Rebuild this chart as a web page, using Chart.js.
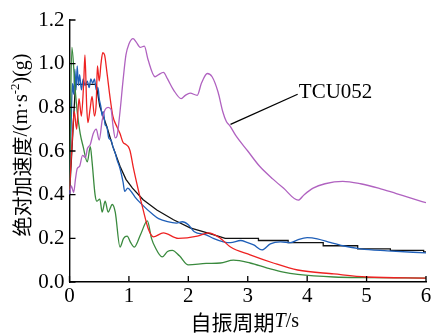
<!DOCTYPE html>
<html>
<head>
<meta charset="utf-8">
<script src="https://cdn.jsdelivr.net/npm/chart.js@4.4.1/dist/chart.umd.min.js"></script>
<style>
html, body { margin: 0; padding: 0; background: #fff; }
</style>
</head>
<body>
<canvas id="myChart" width="434" height="333"></canvas>
<script>
// periods (s) and spectral values (g)
var purpleT = [0, 0.03, 0.07, 0.1, 0.13, 0.17, 0.22, 0.27, 0.3, 0.35, 0.4, 0.45, 0.5, 0.55, 0.6, 0.65, 0.7, 0.73, 0.77, 0.8, 0.85, 0.9, 0.95, 1.0, 1.07, 1.12, 1.19, 1.26, 1.32, 1.44, 1.5, 1.58, 1.65, 1.75, 1.88, 1.95, 2.03, 2.15, 2.22, 2.32, 2.4, 2.5, 2.58, 2.64, 2.7, 2.8, 3.0, 3.2, 3.43, 3.6, 3.85, 3.95, 4.1, 4.3, 4.6, 4.9, 5.2, 5.5, 5.8, 6.0];
var purpleY = [0.40, 0.44, 0.41, 0.47, 0.52, 0.53, 0.58, 0.57, 0.61, 0.63, 0.68, 0.70, 0.65, 0.74, 0.79, 0.80, 0.79, 0.72, 0.66, 0.67, 0.78, 0.92, 1.04, 1.09, 1.115, 1.10, 1.075, 1.08, 1.02, 0.94, 0.95, 0.96, 0.93, 0.88, 0.84, 0.855, 0.865, 0.855, 0.91, 0.955, 0.94, 0.87, 0.78, 0.735, 0.715, 0.67, 0.60, 0.53, 0.47, 0.43, 0.375, 0.40, 0.43, 0.45, 0.461, 0.45, 0.43, 0.405, 0.38, 0.363];

var redT = [0, 0.04, 0.08, 0.12, 0.16, 0.2, 0.24, 0.26, 0.29, 0.31, 0.35, 0.38, 0.42, 0.45, 0.47, 0.5, 0.53, 0.56, 0.59, 0.63, 0.68, 0.73, 0.8, 0.85, 0.9, 0.95, 0.99, 1.02, 1.07, 1.16, 1.24, 1.33, 1.41, 1.58, 1.83, 2.15, 2.34, 2.54, 2.71, 3.04, 3.43, 3.84, 4.45, 5.0, 6.0];
var redY = [0.42, 0.62, 0.78, 0.70, 0.84, 0.76, 0.92, 1.04, 0.80, 0.73, 0.80, 0.85, 0.76, 0.82, 0.99, 0.92, 1.0, 1.05, 1.04, 0.96, 0.85, 0.76, 0.71, 0.68, 0.64, 0.63, 0.62, 0.60, 0.53, 0.42, 0.33, 0.24, 0.207, 0.225, 0.20, 0.21, 0.225, 0.20, 0.16, 0.124, 0.087, 0.055, 0.037, 0.023, 0.018];

var greenT = [0, 0.04, 0.09, 0.13, 0.18, 0.23, 0.3, 0.35, 0.38, 0.43, 0.46, 0.51, 0.55, 0.6, 0.65, 0.72, 0.77, 0.85, 0.91, 0.97, 1.03, 1.09, 1.2, 1.31, 1.38, 1.44, 1.56, 1.65, 1.73, 1.85, 2.0, 2.3, 2.54, 2.76, 3.04, 3.33, 3.6, 3.84, 4.45, 5.0, 6.0];
var greenY = [0.42, 1.075, 0.90, 0.78, 0.68, 0.62, 0.55, 0.62, 0.55, 0.40, 0.37, 0.38, 0.32, 0.37, 0.32, 0.355, 0.32, 0.16, 0.20, 0.21, 0.18, 0.16, 0.22, 0.28, 0.20, 0.16, 0.115, 0.14, 0.145, 0.12, 0.078, 0.085, 0.087, 0.10, 0.087, 0.064, 0.045, 0.035, 0.023, 0.02, 0.018];

var blueT = [0, 0.03, 0.05, 0.07, 0.09, 0.11, 0.13, 0.15, 0.17, 0.2, 0.23, 0.26, 0.3, 0.33, 0.36, 0.39, 0.42, 0.45, 0.48, 0.5, 0.53, 0.55, 0.57, 0.6, 0.63, 0.66, 0.7, 0.73, 0.77, 0.8, 0.85, 0.9, 0.93, 0.98, 1.05, 1.1, 1.2, 1.4, 1.5, 1.65, 1.8, 1.9, 2.0, 2.1, 2.3, 2.42, 2.59, 2.71, 2.88, 3.0, 3.1, 3.24, 3.38, 3.55, 3.72, 3.84, 4.0, 4.17, 4.4, 4.6, 4.9, 5.35, 6.0];
var blueY = [0.40, 0.75, 0.91, 0.86, 0.975, 0.88, 0.99, 0.90, 0.95, 0.88, 0.93, 0.90, 0.92, 0.89, 0.93, 0.91, 0.93, 0.88, 0.89, 0.84, 0.80, 0.76, 0.78, 0.72, 0.71, 0.66, 0.65, 0.62, 0.59, 0.56, 0.52, 0.46, 0.415, 0.43, 0.41, 0.39, 0.36, 0.31, 0.29, 0.276, 0.27, 0.276, 0.262, 0.23, 0.216, 0.20, 0.184, 0.18, 0.19, 0.18, 0.17, 0.147, 0.175, 0.184, 0.18, 0.193, 0.203, 0.198, 0.18, 0.166, 0.152, 0.143, 0.133];

var blackT = [0, 0.1, 0.45, 0.51, 0.63, 0.73, 0.85, 0.95, 1.06, 1.24, 1.47, 1.75, 2.03, 2.32, 2.54, 2.62, 3.18, 3.18, 3.68, 3.68, 4.27, 4.27, 4.85, 4.85, 5.4, 5.4, 5.96, 5.96, 6.0];
var blackY = [0.40, 0.905, 0.905, 0.805, 0.71, 0.62, 0.53, 0.47, 0.43, 0.377, 0.33, 0.285, 0.248, 0.225, 0.207, 0.20, 0.20, 0.19, 0.19, 0.18, 0.18, 0.166, 0.166, 0.152, 0.152, 0.145, 0.145, 0.138, 0.138];

// leader line for the TCU052 label
var leaderT = [2.71, 3.84];
var leaderY = [0.722, 0.86];

var xTicks = [0, 1, 2, 3, 4, 5, 6];
var yTicks = ['0.0', '0.2', '0.4', '0.6', '0.8', '1.0', '1.2'];

function pts(t, v) {
    return t.map(function(x, i) { return {x: x, y: v[i]}; });
}

var serif = '"Liberation Serif", "Times New Roman", serif';
var cjk = '"Noto Sans CJK SC", sans-serif';

function drawParts(ctx, parts, cx, cy) {
    var total = 0;
    parts.forEach(function(p) { ctx.font = p.f; p.w = ctx.measureText(p.t).width; total += p.w; });
    var x = cx - total / 2;
    ctx.textBaseline = 'middle';
    ctx.textAlign = 'left';
    parts.forEach(function(p) {
        ctx.font = p.f;
        ctx.fillText(p.t, x, cy + (p.dy || 0));
        x += p.w;
    });
}

var decor = {
    id: 'decor',
    afterDraw: function(chart) {
        var ctx = chart.ctx, a = chart.chartArea;
        var xs = chart.scales.x, ys = chart.scales.y;
        ctx.save();
        ctx.strokeStyle = '#000';
        ctx.lineWidth = 1.3;
        ctx.beginPath();
        xs.ticks.forEach(function(t) {
            var px = xs.getPixelForValue(t.value);
            ctx.moveTo(px, a.bottom); ctx.lineTo(px, a.bottom - 6);
        });
        ys.ticks.forEach(function(t) {
            var py = ys.getPixelForValue(t.value);
            ctx.moveTo(a.left, py); ctx.lineTo(a.left + 6, py);
        });
        ctx.stroke();

        ctx.fillStyle = '#000';
        ctx.font = '21px ' + serif;
        ctx.textAlign = 'left';
        ctx.textBaseline = 'middle';
        ctx.fillText('TCU052', xs.getPixelForValue(3.86), ys.getPixelForValue(0.867));

        // x title
        drawParts(ctx, [
            {t: '自振周期', f: '21px ' + cjk},
            {t: 'T', f: 'italic 20px ' + serif},
            {t: '/s', f: '20px ' + serif}
        ], (a.left + a.right) / 2 - 3, 322);

        // y title
        ctx.translate(21, 145);
        ctx.rotate(-Math.PI / 2);
        drawParts(ctx, [
            {t: '绝对加速度', f: '20px ' + cjk},
            {t: '/(m·s', f: '20px ' + serif},
            {t: '-2', f: '13px ' + serif, dy: -6},
            {t: ')(g)', f: '20px ' + serif}
        ], 0, 1);
        ctx.restore();
    }
};

var ctx = document.getElementById('myChart').getContext('2d');
var chart = new Chart(ctx, {
    type: 'line',
    data: {
        datasets: [{
            data: pts(leaderT, leaderY),
            borderColor: '#000',
            borderWidth: 1.3,
            order: 0
        }, {
            data: pts(purpleT, purpleY),
            borderColor: '#b062c0',
            cubicInterpolationMode: 'monotone',
            order: 1
        }, {
            data: pts(redT, redY),
            borderColor: '#ee2222',
            cubicInterpolationMode: 'monotone',
            order: 2
        }, {
            data: pts(greenT, greenY),
            borderColor: '#3a8a3e',
            cubicInterpolationMode: 'monotone',
            order: 3
        }, {
            data: pts(blueT, blueY),
            borderColor: '#1f5fb8',
            cubicInterpolationMode: 'monotone',
            order: 4
        }, {
            data: pts(blackT, blackY),
            borderColor: '#111',
            tension: 0,
            order: 5
        }]
    },
    options: {
        responsive: false,
        animation: false,
        events: [],
        layout: { padding: { top: 20, right: 8, left: 0, bottom: 0 } },
        elements: {
            point: { radius: 0 },
            line: { borderWidth: 1.3, fill: false }
        },
        plugins: {
            legend: { display: false },
            tooltip: { enabled: false }
        },
        scales: {
            x: {
                type: 'linear',
                min: 0,
                max: 6,
                afterFit: function(s) { s.height = 51; },
                afterBuildTicks: function(s) { s.ticks = xTicks.map(function(v) { return {value: v}; }); },
                ticks: {
                    color: '#000',
                    padding: 2,
                    maxRotation: 0,
                    font: { family: serif, size: 21 },
                    callback: function(v) { return String(v); }
                },
                grid: { display: true, drawOnChartArea: false, drawTicks: false },
                border: { display: true, color: '#000', width: 1.4 }
            },
            y: {
                type: 'linear',
                min: 0,
                max: 1.2,
                afterFit: function(s) { s.width = 69.5; },
                afterBuildTicks: function(s) { s.ticks = yTicks.map(function(v) { return {value: parseFloat(v)}; }); },
                ticks: {
                    color: '#000',
                    padding: 5,
                    font: { family: serif, size: 21 },
                    callback: function(v, i) { return yTicks[i]; }
                },
                grid: { display: true, drawOnChartArea: false, drawTicks: false },
                border: { display: true, color: '#000', width: 1.4 }
            }
        }
    },
    plugins: [decor]
});
</script>
</body>
</html>
